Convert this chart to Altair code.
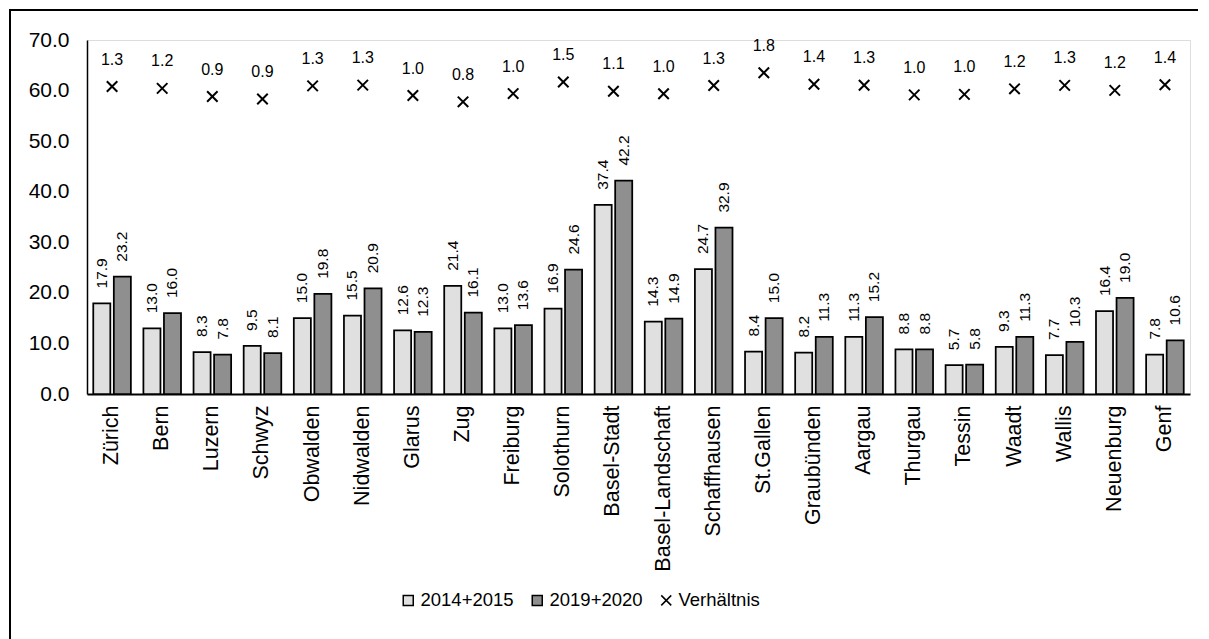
import altair as alt
import pandas as pd

kantone = ["Zürich", "Bern", "Luzern", "Schwyz", "Obwalden", "Nidwalden", "Glarus", "Zug",
           "Freiburg", "Solothurn", "Basel-Stadt", "Basel-Landschaft", "Schaffhausen",
           "St.Gallen", "Graubünden", "Aargau", "Thurgau", "Tessin", "Waadt", "Wallis",
           "Neuenburg", "Genf"]
werte_2014_2015 = [17.9, 13.0, 8.3, 9.5, 15.0, 15.5, 12.6, 21.4, 13.0, 16.9, 37.4, 14.3,
                   24.7, 8.4, 8.2, 11.3, 8.8, 5.7, 9.3, 7.7, 16.4, 7.8]
werte_2019_2020 = [23.2, 16.0, 7.8, 8.1, 19.8, 20.9, 12.3, 16.1, 13.6, 24.6, 42.2, 14.9,
                   32.9, 15.0, 11.3, 15.2, 8.8, 5.8, 11.3, 10.3, 19.0, 10.6]
verhaeltnis = [1.296, 1.231, 0.940, 0.853, 1.320, 1.348, 0.976, 0.752, 1.046, 1.456, 1.128,
               1.042, 1.332, 1.786, 1.378, 1.345, 1.000, 1.018, 1.215, 1.338, 1.159, 1.359]
serien = ["2014+2015", "2019+2020", "Verhältnis"]
farben = ["#e0e0e0", "#8f8f8f", "transparent"]
formen = ["square", "square", "M-1,-1L1,1M-1,1L1,-1"]

FONT = "Liberation Sans"

bars_df = pd.DataFrame(
    [{"kanton": k, "serie": serien[0], "wert": v} for k, v in zip(kantone, werte_2014_2015)]
    + [{"kanton": k, "serie": serien[1], "wert": v} for k, v in zip(kantone, werte_2019_2020)]
)
ratio_df = pd.DataFrame({"kanton": kantone, "ratio": verhaeltnis, "serie": serien[2]})
frame_df = pd.DataFrame({"a": [0]})

x_axis = alt.Axis(title=None, labelAngle=270, labelFontSize=21.5, labelFont=FONT,
                  labelColor="black", ticks=False, domainColor="black", domainWidth=2,
                  labelPadding=11, grid=False)
x_enc = alt.X("kanton:N", sort=kantone,
              scale=alt.Scale(paddingInner=0.25, paddingOuter=0.125), axis=x_axis)
xoff = alt.XOffset("serie:N", sort=serien[:2],
                   scale=alt.Scale(paddingInner=0.17, paddingOuter=0))

leg = alt.Legend(title=None, orient="none", legendX=312, legendY=551, direction="horizontal",
                 labelFontSize=18.5, labelFont=FONT, labelColor="black", symbolSize=100,
                 symbolStrokeColor="black", symbolStrokeWidth=1.5, labelOffset=3,
                 columnPadding=14, padding=0)
fill_enc = alt.Fill("serie:N", scale=alt.Scale(domain=serien, range=farben), legend=leg)

y_bar = alt.Y("wert:Q", scale=alt.Scale(domain=[0, 70], nice=False),
              axis=alt.Axis(title=None, values=list(range(0, 71, 10)), format=".1f",
                            labelFontSize=21, labelFont=FONT, labelColor="black",
                            ticks=False, grid=False, domainColor="black", domainWidth=1.5,
                            labelPadding=18))

bars = alt.Chart(bars_df).mark_bar(stroke="black", strokeWidth=1.75).encode(
    x=x_enc, xOffset=xoff, y=y_bar, fill=fill_enc
)
bar_labels = alt.Chart(bars_df).mark_text(
    angle=270, align="left", baseline="middle", dx=15, fontSize=15.5, font=FONT, color="black"
).encode(x=x_enc, xOffset=xoff, y=y_bar, text=alt.Text("wert:Q", format=".1f"))

y_ratio = alt.Y("ratio:Q", scale=alt.Scale(domain=[-9.658, 2.955], nice=False, zero=False),
                axis=None)
points = alt.Chart(ratio_df).mark_point(filled=True, stroke="black", strokeWidth=2,
                                        size=110, opacity=1).encode(
    x=x_enc, y=y_ratio, fill=fill_enc,
    shape=alt.Shape("serie:N", scale=alt.Scale(domain=serien, range=formen), legend=leg)
)
ratio_labels = alt.Chart(ratio_df).mark_text(
    baseline="middle", dy=-27, fontSize=16, font=FONT, color="black"
).encode(x=x_enc, y=y_ratio, text=alt.Text("ratio:Q", format=".1f"))

frame_left = alt.Chart(frame_df).mark_rule(color="black", strokeWidth=2).encode(
    x=alt.value(-77), y=alt.value(-30), y2=alt.value(700))
frame_top = alt.Chart(frame_df).mark_rule(color="black", strokeWidth=2).encode(
    x=alt.value(-78), x2=alt.value(1111), y=alt.value(-30))
frame_right = alt.Chart(frame_df).mark_rule(color="black", strokeWidth=1).encode(
    x=alt.value(1111), y=alt.value(-30), y2=alt.value(-10))

chart = alt.layer(
    frame_left, frame_top,
    alt.layer(bars, bar_labels),
    alt.layer(points, ratio_labels),
).resolve_scale(y="independent").properties(
    width=1103, height=354,
    autosize=alt.AutoSizeParams(type="none"),
    padding={"left": 79, "top": 32, "right": 11, "bottom": 245},
).configure_view(stroke=None).configure(background="white")

chart.save("out.html", embed_options={"renderer": "svg", "actions": False})
